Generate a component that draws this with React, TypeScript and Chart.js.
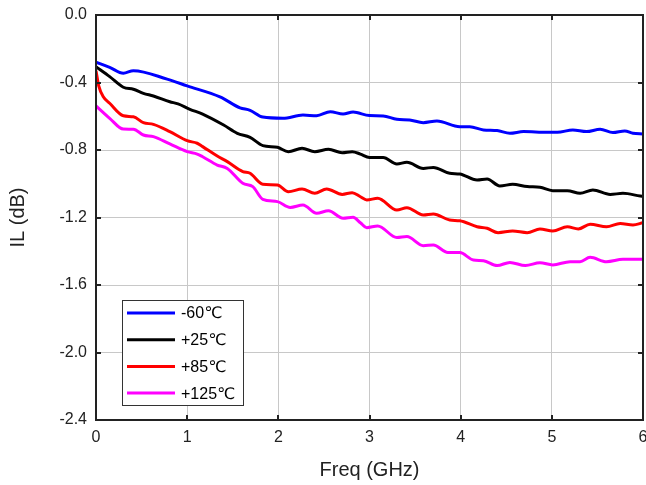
import React, { useEffect, useRef } from "react";
import { Chart, registerables } from "chart.js";

Chart.register(...registerables);

const seriesLabels = ["-60℃", "+25℃", "+85℃", "+125℃"];
const seriesColors = ["#0000ff", "#000000", "#ff0000", "#ff00ff"];

const freqM60 = [0, 0.15, 0.3, 0.41, 0.78, 1.0, 1.36, 1.58, 1.69, 1.83, 2.05, 2.27, 2.42, 2.57, 2.71, 2.82, 3.0, 3.15, 3.3, 3.44, 3.59, 3.74, 3.99, 4.1, 4.25, 4.4, 4.54, 4.69, 4.95, 5.06, 5.23, 5.38, 5.53, 5.67, 5.8, 5.89, 6.0];
const ilM60 = [-0.28, -0.31, -0.345, -0.33, -0.38, -0.42, -0.485, -0.55, -0.565, -0.605, -0.612, -0.593, -0.597, -0.573, -0.587, -0.575, -0.596, -0.598, -0.618, -0.622, -0.638, -0.628, -0.662, -0.662, -0.681, -0.685, -0.701, -0.691, -0.695, -0.695, -0.681, -0.691, -0.677, -0.697, -0.687, -0.701, -0.705];

const freqP25 = [0, 0.15, 0.3, 0.41, 0.52, 0.63, 0.81, 0.9, 1.03, 1.17, 1.4, 1.55, 1.69, 1.83, 1.99, 2.11, 2.26, 2.4, 2.55, 2.7, 2.81, 2.9, 3.0, 3.15, 3.3, 3.41, 3.59, 3.7, 3.88, 3.99, 4.18, 4.29, 4.43, 4.57, 4.73, 4.87, 5.01, 5.17, 5.31, 5.45, 5.64, 5.78, 5.97, 6.0];
const ilP25 = [-0.306, -0.365, -0.428, -0.44, -0.464, -0.48, -0.514, -0.527, -0.559, -0.587, -0.652, -0.701, -0.725, -0.774, -0.784, -0.81, -0.79, -0.81, -0.796, -0.816, -0.81, -0.824, -0.845, -0.845, -0.883, -0.873, -0.909, -0.903, -0.938, -0.942, -0.978, -0.972, -1.013, -1.003, -1.017, -1.021, -1.041, -1.041, -1.057, -1.037, -1.063, -1.057, -1.073, -1.075];

const freqP85 = [0, 0.03, 0.08, 0.15, 0.3, 0.41, 0.52, 0.63, 0.81, 1.0, 1.11, 1.17, 1.33, 1.44, 1.61, 1.69, 1.83, 1.99, 2.11, 2.26, 2.4, 2.53, 2.7, 2.81, 2.9, 2.97, 3.09, 3.3, 3.41, 3.59, 3.7, 3.88, 3.99, 4.18, 4.29, 4.41, 4.57, 4.73, 4.87, 5.01, 5.17, 5.29, 5.42, 5.6, 5.75, 5.89, 6.0];
const ilP85 = [-0.33, -0.42, -0.484, -0.523, -0.597, -0.603, -0.638, -0.648, -0.691, -0.745, -0.76, -0.78, -0.836, -0.869, -0.928, -0.938, -1.003, -1.007, -1.047, -1.031, -1.057, -1.031, -1.063, -1.053, -1.077, -1.096, -1.086, -1.156, -1.142, -1.185, -1.179, -1.215, -1.219, -1.255, -1.264, -1.29, -1.28, -1.29, -1.268, -1.28, -1.255, -1.268, -1.24, -1.255, -1.235, -1.244, -1.231];

const freqP125 = [0, 0.15, 0.3, 0.41, 0.52, 0.63, 0.81, 1.0, 1.11, 1.17, 1.33, 1.44, 1.61, 1.72, 1.83, 1.99, 2.13, 2.27, 2.42, 2.55, 2.71, 2.82, 2.9, 2.97, 3.09, 3.3, 3.41, 3.59, 3.7, 3.86, 3.99, 4.14, 4.25, 4.4, 4.54, 4.71, 4.87, 5.01, 5.2, 5.31, 5.42, 5.6, 5.78, 6.0];
const ilP125 = [-0.539, -0.612, -0.676, -0.677, -0.711, -0.721, -0.764, -0.81, -0.824, -0.84, -0.889, -0.909, -0.997, -1.017, -1.092, -1.106, -1.14, -1.126, -1.175, -1.16, -1.205, -1.199, -1.231, -1.26, -1.25, -1.319, -1.313, -1.367, -1.363, -1.408, -1.408, -1.452, -1.456, -1.485, -1.466, -1.485, -1.468, -1.481, -1.462, -1.462, -1.436, -1.462, -1.448, -1.448];

const seriesFreq = [freqM60, freqP25, freqP85, freqP125];
const seriesIL = [ilM60, ilP25, ilP85, ilP125];

const xTitle = "Freq (GHz)";
const yTitle = "IL (dB)";
const xMin = 0, xMax = 6, xStep = 1;
const yMin = -2.4, yMax = 0, yStep = 0.4;

const FONT = "Arial, 'Liberation Sans', 'DejaVu Sans', sans-serif";

const framePlugin = {
  id: "frameTicks",
  afterDraw(chart: any) {
    const { ctx, chartArea } = chart;
    const { left, right, top, bottom } = chartArea;
    const xs = chart.scales.x;
    const ys = chart.scales.y;
    ctx.save();
    ctx.strokeStyle = "#222";
    ctx.lineWidth = 2;
    ctx.strokeRect(left, top, right - left, bottom - top);
    const tl = 5;
    ctx.lineWidth = 2;
    ctx.beginPath();
    xs.ticks.forEach((t: any) => {
      const px = Math.round(xs.getPixelForValue(t.value));
      ctx.moveTo(px, bottom);
      ctx.lineTo(px, bottom - tl);
      ctx.moveTo(px, top);
      ctx.lineTo(px, top + tl);
    });
    ys.ticks.forEach((t: any) => {
      const py = Math.round(ys.getPixelForValue(t.value));
      ctx.moveTo(left, py);
      ctx.lineTo(left + tl, py);
      ctx.moveTo(right, py);
      ctx.lineTo(right - tl, py);
    });
    ctx.stroke();

    // legend box
    const bx = left + 26;
    const by = top + 285;
    const bw = 121;
    const bh = 105;
    ctx.fillStyle = "#ffffff";
    ctx.fillRect(bx, by, bw, bh);
    ctx.strokeStyle = "#333";
    ctx.lineWidth = 1;
    ctx.strokeRect(bx + 0.5, by + 0.5, bw, bh);
    ctx.font = "16px " + FONT;
    ctx.textBaseline = "middle";
    ctx.textAlign = "left";
    chart.data.datasets.forEach((ds: any, i: number) => {
      const cy = by + 13 + i * 26.7;
      ctx.strokeStyle = ds.borderColor;
      ctx.lineWidth = 3;
      ctx.beginPath();
      ctx.moveTo(bx + 5, cy);
      ctx.lineTo(bx + 53, cy);
      ctx.stroke();
      ctx.fillStyle = "#000";
      ctx.fillText(ds.label, bx + 59, cy + 1);
    });
    ctx.restore();
  },
};

export default function App() {
  const ref = useRef<HTMLCanvasElement>(null);
  useEffect(() => {
    document.body.style.margin = "0";
    const datasets = seriesLabels.map((label, i) => ({
      label,
      data: seriesFreq[i].map((f, j) => ({ x: f, y: seriesIL[i][j] })),
      borderColor: seriesColors[i],
      backgroundColor: seriesColors[i],
      borderWidth: 3,
      pointRadius: 0,
      cubicInterpolationMode: "monotone" as const,
      fill: false,
    }));
    const chart = new Chart(ref.current!, {
      type: "line",
      data: { datasets },
      options: {
        animation: false,
        responsive: false,
        layout: { padding: { top: 15, right: 3, left: 0, bottom: 0 } },
        plugins: { legend: { display: false }, tooltip: { enabled: false } },
        scales: {
          x: {
            type: "linear",
            min: xMin,
            max: xMax,
            ticks: {
              stepSize: xStep,
              padding: 8,
              color: "#222",
              font: { family: FONT, size: 16 },
              maxRotation: 0,
              callback: (v: any) => String(v),
            },
            grid: { color: "#c8c8c8", lineWidth: 1, drawTicks: false },
            border: { display: false },
            title: {
              display: true,
              text: xTitle,
              color: "#222",
              font: { family: FONT, size: 20 },
              padding: { top: 0, bottom: 3 },
            },
            afterFit: (s: any) => {
              s.height = 65;
              s.paddingLeft = 0;
              s.paddingRight = 0;
            },
          },
          y: {
            type: "linear",
            min: yMin,
            max: yMax,
            ticks: {
              stepSize: yStep,
              padding: 9,
              color: "#222",
              font: { family: FONT, size: 16 },
              callback: (v: any) => Number(v).toFixed(1),
            },
            grid: { color: "#c8c8c8", lineWidth: 1, drawTicks: false },
            border: { display: false },
            title: {
              display: true,
              text: yTitle,
              color: "#222",
              font: { family: FONT, size: 20 },
              padding: { top: 6, bottom: 0 },
            },
            afterFit: (s: any) => {
              s.width = 96;
              s.paddingTop = 0;
              s.paddingBottom = 0;
            },
          },
        },
      },
      plugins: [framePlugin],
    });
    return () => chart.destroy();
  }, []);
  return (
    <div style={{ position: "absolute", left: 0, top: 0, width: 646, height: 485, background: "#fff" }}>
      <canvas ref={ref} width={646} height={485} style={{ display: "block" }} />
    </div>
  );
}
